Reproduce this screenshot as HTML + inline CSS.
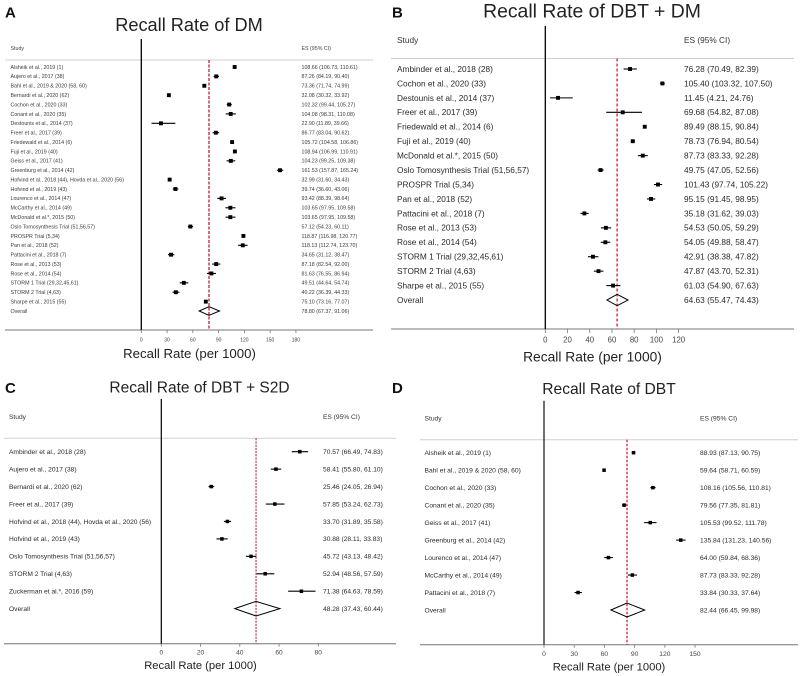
<!DOCTYPE html>
<html lang="en">
<head>
<meta charset="utf-8">
<title>Recall Rate Forest Plots</title>
<style>
html,body{margin:0;padding:0;background:#fff;}
svg{display:block;filter:blur(0.3px);}
text{font-family:"Liberation Sans",sans-serif;}
</style>
</head>
<body>
<svg id="figure" width="800" height="676" viewBox="0 0 800 676" xmlns="http://www.w3.org/2000/svg">
  <rect x="0" y="0" width="800" height="676" fill="#fff"/>
  <text x="5" y="17.7" font-size="15" font-weight="bold" fill="#111">A</text>
  <text x="392" y="17.7" font-size="15" font-weight="bold" fill="#111">B</text>
  <text x="5" y="392.8" font-size="15" font-weight="bold" fill="#111">C</text>
  <text x="392" y="392.8" font-size="15" font-weight="bold" fill="#111">D</text>
  <text x="189" y="31" font-size="18.2" text-anchor="middle" fill="#222">Recall Rate of DM</text>
  <text x="592" y="17.5" font-size="19.4" text-anchor="middle" fill="#222">Recall Rate of DBT + DM</text>
  <text x="199.5" y="392.7" font-size="15.5" text-anchor="middle" fill="#222">Recall Rate of DBT + S2D</text>
  <text x="609" y="394" font-size="15.6" text-anchor="middle" fill="#222">Recall Rate of DBT</text>
  <text x="189.5" y="358" font-size="13.2" text-anchor="middle" fill="#222">Recall Rate (per 1000)</text>
  <text x="592.5" y="361.6" font-size="13.8" text-anchor="middle" fill="#222">Recall Rate (per 1000)</text>
  <text x="200.5" y="669" font-size="11.2" text-anchor="middle" fill="#222">Recall Rate (per 1000)</text>
  <text x="609" y="670.7" font-size="11.2" text-anchor="middle" fill="#222">Recall Rate (per 1000)</text>
  <text x="10.5" y="49.8" font-size="5.3" fill="#444">Study</text>
  <text x="301.5" y="49.8" font-size="5.3" fill="#444">ES (95% CI)</text>
  <text x="397" y="42.9" font-size="8.3" fill="#333">Study</text>
  <text x="684" y="42.9" font-size="8.3" fill="#333">ES (95% CI)</text>
  <text x="9" y="419" font-size="6.65" fill="#333">Study</text>
  <text x="323" y="419" font-size="6.65" fill="#333">ES (95% CI)</text>
  <text x="424.5" y="420.3" font-size="6.7" fill="#333">Study</text>
  <text x="700" y="420.3" font-size="6.7" fill="#333">ES (95% CI)</text>
</svg>
<script>
// Panel A: Recall Rate of DM
const aStudies = ["Alsheik et al., 2019 (1)","Aujero et al., 2017 (38)","Bahl et al., 2019 & 2020 (58, 60)","Bernardi et al., 2020 (62)","Cochon et al., 2020 (33)","Conant et al., 2020 (35)","Destounis et al., 2014 (37)","Freer et al., 2017 (39)","Friedewald et al., 2014 (6)","Fuji et al., 2019 (40)","Geiss et al., 2017 (41)","Greenburg et al., 2014 (42)","Hofvind et al., 2018 (44), Hovda et al., 2020 (56)","Hofvind et al., 2019 (43)","Lourenco et al., 2014 (47)","McCarthy et al., 2014 (49)","McDonald et al.*, 2015 (50)","Oslo Tomosynthesis Trial (51,56,57)","PROSPR Trial (5,34)","Pan et al., 2018 (52)","Pattacini et al., 2018 (7)","Rose et al., 2013 (53)","Rose et al., 2014 (54)","STORM 1 Trial (29,32,45,61)","STORM 2 Trial (4,63)","Sharpe et al., 2015 (55)"];
const aEs = [108.66,87.26,73.36,32.08,102.32,104.08,22.90,86.77,105.72,108.94,104.23,161.53,32.99,39.74,93.42,103.65,103.65,57.12,118.87,118.13,34.65,87.18,81.63,49.51,40.22,75.10];
const aLo = [106.73,84.19,71.74,30.32,99.44,98.31,11.89,83.04,104.58,106.99,99.25,157.87,31.60,36.60,88.39,97.95,97.95,54.23,116.98,112.74,31.12,82.54,76.55,44.64,36.39,73.16];
const aHi = [110.61,90.40,74.99,33.92,105.27,110.08,39.66,90.62,106.86,110.91,109.38,165.24,34.43,43.06,98.64,109.58,109.58,60.11,120.77,123.70,38.47,92.00,86.94,54.74,44.33,77.07];
const aOverall = [78.80,67.37,91.06];
const aTicks = [0,30,60,90,120,150,180];

// Panel B: Recall Rate of DBT + DM
const bStudies = ["Ambinder et al., 2018 (28)","Cochon et al., 2020 (33)","Destounis et al., 2014 (37)","Freer et al., 2017 (39)","Friedewald et al., 2014 (6)","Fuji et al., 2019 (40)","McDonald et al.*, 2015 (50)","Oslo Tomosynthesis Trial (51,56,57)","PROSPR Trial (5,34)","Pan et al., 2018 (52)","Pattacini et al., 2018 (7)","Rose et al., 2013 (53)","Rose et al., 2014 (54)","STORM 1 Trial (29,32,45,61)","STORM 2 Trial (4,63)","Sharpe et al., 2015 (55)"];
const bEs = [76.28,105.40,11.45,69.68,89.49,78.73,87.73,49.75,101.43,95.15,35.18,54.53,54.05,42.91,47.87,61.03];
const bLo = [70.49,103.32,4.21,54.82,88.15,76.94,83.33,47.05,97.74,91.45,31.62,50.05,49.88,38.38,43.70,54.90];
const bHi = [82.39,107.50,24.76,87.08,90.84,80.54,92.28,52.56,105.22,98.95,39.03,59.29,58.47,47.82,52.31,67.63];
const bOverall = [64.63,55.47,74.43];
const bTicks = [0,20,40,60,80,100,120];

// Panel C: Recall Rate of DBT + S2D
const cStudies = ["Ambinder et al., 2018 (28)","Aujero et al., 2017 (38)","Bernardi et al., 2020 (62)","Freer et al., 2017 (39)","Hofvind et al., 2018 (44), Hovda et al., 2020 (56)","Hofvind et al., 2019 (43)","Oslo Tomosynthesis Trial (51,56,57)","STORM 2 Trial (4,63)","Zuckerman et al.*, 2016 (59)"];
const cEs = [70.57,58.41,25.46,57.85,33.70,30.88,45.72,52.94,71.38];
const cLo = [66.49,55.80,24.05,53.24,31.89,28.11,43.13,48.56,64.63];
const cHi = [74.83,61.10,26.94,62.73,35.58,33.83,48.42,57.59,78.59];
const cOverall = [48.28,37.43,60.44];
const cTicks = [0,20,40,60,80];

// Panel D: Recall Rate of DBT
const dStudies = ["Alsheik et al., 2019 (1)","Bahl et al., 2019 & 2020 (58, 60)","Cochon et al., 2020 (33)","Conant et al., 2020 (35)","Geiss et al., 2017 (41)","Greenburg et al., 2014 (42)","Lourenco et al., 2014 (47)","McCarthy et al., 2014 (49)","Pattacini et al., 2018 (7)"];
const dEs = [88.93,59.64,108.16,79.56,105.53,135.84,64.00,87.73,33.84];
const dLo = [87.13,58.71,105.56,77.35,99.52,131.23,59.84,83.33,30.33];
const dHi = [90.75,60.59,110.81,81.81,111.78,140.56,68.36,92.28,37.64];
const dOverall = [82.44,66.45,99.98];
const dTicks = [0,30,60,90,120,150];

const SVG_NS = 'http://www.w3.org/2000/svg';
const figure = document.getElementById('figure');

function mk(parent, tag, attrs, content) {
  const el = document.createElementNS(SVG_NS, tag);
  for (const k in attrs) el.setAttribute(k, attrs[k]);
  if (content !== undefined) el.textContent = content;
  parent.appendChild(el);
  return el;
}

function fmt(es, lo, hi) {
  return es.toFixed(2) + ' (' + lo.toFixed(2) + ', ' + hi.toFixed(2) + ')';
}

function drawPanel(id, studies, es, lo, hi, overall, ticks, g) {
  const xScale = v => g.x0 + v * g.pxPerUnit;
  const yRow = i => g.rowTop + i * g.rowStep;
  const group = mk(figure, 'g', {});
  
  

  const header = mk(group, 'line', {x1: g.left, x2: g.right, y1: g.headerY, y2: g.headerY, stroke: '#cfcfcf', 'stroke-width': 1});
  
  

  const axis = mk(group, 'line', {x1: g.left, x2: g.right, y1: g.axisY, y2: g.axisY, stroke: '#777', 'stroke-width': 1});
  
  

  const zero = mk(group, 'line', {x1: xScale(0), x2: xScale(0), y1: g.topY, y2: g.axisY, stroke: g.zeroColor, 'stroke-width': g.zeroWidth});
  
  

  ticks.forEach(t => {
    const mark = mk(group, 'line', {x1: xScale(t), x2: xScale(t), y1: g.axisY, y2: g.axisY + g.tickLen, stroke: '#777', 'stroke-width': 0.8});
    
    
    const label = mk(group, 'text', {x: xScale(t), y: g.tickY + g.tickFont * 0.35, 'font-size': g.tickFont, 'text-anchor': 'middle', fill: '#444'}, String(t));
    
    
  });

  const ref = mk(group, 'line', {x1: xScale(overall[0]), x2: xScale(overall[0]), y1: g.refTop, y2: g.axisY, stroke: g.refColor, 'stroke-width': g.refWidth, 'stroke-dasharray': g.refDash});
  
  

  studies.forEach((name, i) => {
    const y = yRow(i);
    const label = mk(group, 'text', {x: g.textX, y: y + g.font * 0.35, 'font-size': g.font, fill: g.textColor}, name);
    
    
    const ci = mk(group, 'line', {x1: xScale(lo[i]), x2: xScale(hi[i]), y1: y, y2: y, stroke: '#000', 'stroke-width': g.ciWidth});
    
    
    const box = mk(group, 'rect', {x: xScale(es[i]) - g.box / 2, y: y - g.box / 2, width: g.box, height: g.box, fill: '#000'});
    
    
    const value = mk(group, 'text', {x: g.esX, y: y + g.font * 0.35, 'font-size': g.font, fill: g.textColor}, fmt(es[i], lo[i], hi[i]));
    
    
  });

  const oy = yRow(studies.length);
  const oLabel = mk(group, 'text', {x: g.textX, y: oy + g.font * 0.35, 'font-size': g.font, fill: g.textColor}, 'Overall');
  
  
  const pts = [[xScale(overall[1]), oy], [xScale(overall[0]), oy - g.diamond], [xScale(overall[2]), oy], [xScale(overall[0]), oy + g.diamond]];
  const diamond = mk(group, 'polygon', {points: pts.map(p => p.join(',')).join(' '), fill: 'none', stroke: '#000', 'stroke-width': 1});
  
  
  const oValue = mk(group, 'text', {x: g.esX, y: oy + g.font * 0.35, 'font-size': g.font, fill: g.textColor}, fmt(overall[0], overall[1], overall[2]));
  
  
}

drawPanel('a', aStudies, aEs, aLo, aHi, aOverall, aTicks, {
  x0: 141.3, pxPerUnit: 0.859, rowTop: 67, rowStep: 9.385, left: 5, right: 373, headerY: 60, axisY: 330, topY: 39, refTop: 60,
  tickLen: 3, tickY: 339.7, tickFont: 5, font: 5.3, textX: 10.5, esX: 301.5, textColor: '#3a3a3a',
  zeroColor: '#000', zeroWidth: 1.3, refColor: '#b8304a', refWidth: 1.4, refDash: '3 1.5', ciWidth: 1.1, box: 3.9, diamond: 4.3
});
drawPanel('b', bStudies, bEs, bLo, bHi, bOverall, bTicks, {
  x0: 545.3, pxPerUnit: 1.111, rowTop: 69, rowStep: 14.44, left: 391, right: 794, headerY: 58.5, axisY: 329, topY: 26, refTop: 58.5,
  tickLen: 4, tickY: 340, tickFont: 7.8, font: 8.3, textX: 397, esX: 684, textColor: '#2a2a2a',
  zeroColor: '#000', zeroWidth: 1.3, refColor: '#cc1f38', refWidth: 1.3, refDash: '3 2', ciWidth: 1.1, box: 3.9, diamond: 5.7
});
drawPanel('c', cStudies, cEs, cLo, cHi, cOverall, cTicks, {
  x0: 161.3, pxPerUnit: 1.9625, rowTop: 451.7, rowStep: 17.44, left: 4, right: 396, headerY: 438.3, axisY: 643.7, topY: 399, refTop: 438.3,
  tickLen: 3, tickY: 652, tickFont: 6.6, font: 6.65, textX: 9, esX: 323, textColor: '#2a2a2a',
  zeroColor: '#000', zeroWidth: 1.2, refColor: '#b8304a', refWidth: 1.2, refDash: '2 1.2', ciWidth: 1.1, box: 3.5, diamond: 7.3
});
drawPanel('d', dStudies, dEs, dLo, dHi, dOverall, dTicks, {
  x0: 544, pxPerUnit: 1.007, rowTop: 452.7, rowStep: 17.48, left: 420, right: 798, headerY: 439.7, axisY: 644.7, topY: 400.7, refTop: 439.7,
  tickLen: 3, tickY: 653.7, tickFont: 6.7, font: 6.7, textX: 424.5, esX: 700, textColor: '#2a2a2a',
  zeroColor: '#333', zeroWidth: 1.4, refColor: '#c02a44', refWidth: 1.3, refDash: '2.5 1.5', ciWidth: 1.1, box: 3.5, diamond: 7
});
</script>
</body>
</html>
